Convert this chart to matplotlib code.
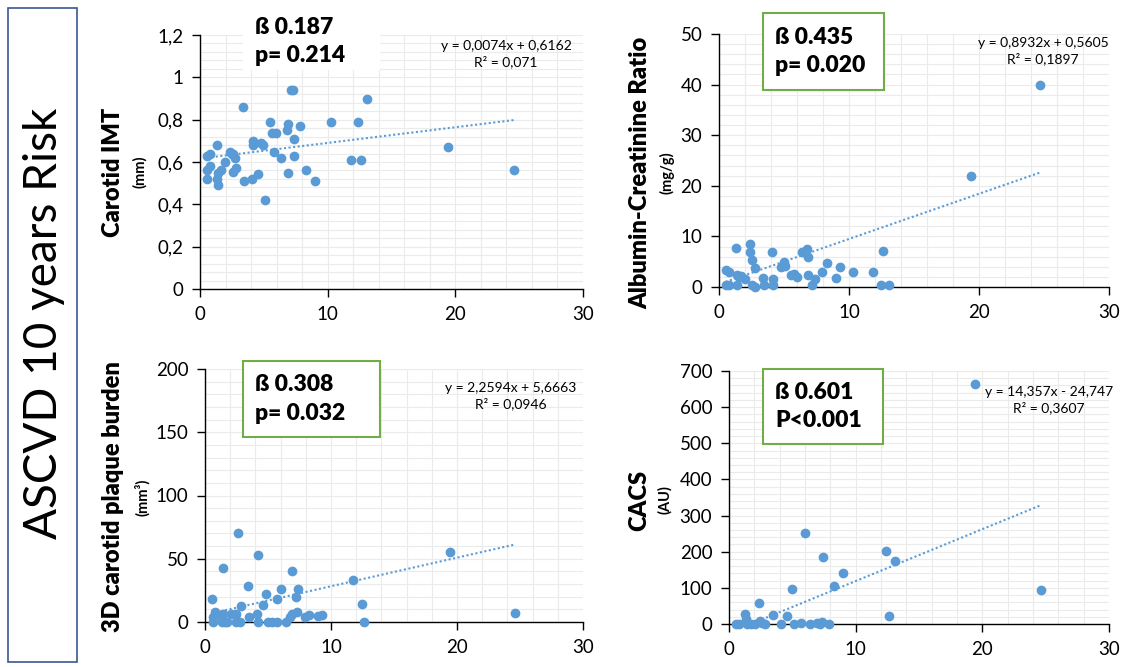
import numpy as np
import matplotlib.pyplot as plt
from matplotlib.ticker import MultipleLocator, FuncFormatter
from matplotlib.patches import Rectangle

plt.rcParams['font.family'] = ['Lato', 'DejaVu Sans']

# ASCVD 10-year risk (x) against each marker (y)
imt_x = [0.52, 0.57, 0.57, 0.78, 0.78, 1.36, 1.31, 1.38, 1.38, 1.65, 1.96, 2.35, 2.48, 2.61,
         2.74, 2.56, 2.80, 3.40, 3.45, 4.10, 4.18, 4.18, 4.57, 4.78, 4.96, 5.07, 5.49, 5.62,
         5.80, 5.96, 6.38, 6.79, 6.90, 6.90, 7.13, 7.29, 7.37, 7.37, 7.87, 8.28, 8.99, 10.30,
         11.81, 12.39, 12.59, 13.07, 19.39, 24.59]
imt_y = [0.561, 0.519, 0.629, 0.64, 0.582, 0.68, 0.519, 0.49, 0.549, 0.561, 0.599, 0.648, 0.637, 0.64,
         0.621, 0.552, 0.572, 0.861, 0.509, 0.519, 0.699, 0.68, 0.541, 0.692, 0.678, 0.419, 0.79, 0.738,
         0.648, 0.738, 0.621, 0.75, 0.779, 0.55, 0.938, 0.938, 0.711, 0.629, 0.77, 0.561, 0.509, 0.79,
         0.609, 0.79, 0.609, 0.899, 0.67, 0.56]

acr_x = [0.51, 0.77, 0.51, 0.77, 1.28, 1.39, 1.39, 1.54, 1.72, 1.98, 2.41, 2.41, 2.57, 2.75, 2.57,
         2.77, 3.39, 3.49, 4.08, 4.16, 4.16, 4.80, 5.01, 5.06, 5.50, 5.75, 6.01, 6.40, 6.78, 6.88,
         6.88, 7.19, 7.40, 7.89, 8.30, 8.99, 9.27, 10.30, 11.84, 12.43, 12.59, 13.10, 19.39, 24.66]
acr_y = [3.29, 2.96, 0.33, 0.33, 7.7, 2.43, 0.33, 1.97, 2.1, 1.64, 8.55, 6.97, 5.39, 3.75, 0.33,
         0.0, 1.78, 0.33, 6.97, 1.64, 0.33, 3.88, 4.87, 4.08, 2.43, 2.63, 1.97, 6.97, 7.5, 5.92,
         2.3, 0.33, 1.58, 2.96, 4.74, 1.71, 3.95, 2.96, 2.96, 0.33, 7.17, 0.33, 21.97, 39.87]

plq_x = [0.53, 0.61, 0.66, 0.79, 0.87, 1.40, 1.32, 1.46, 1.59, 1.72, 2.07, 2.44, 2.44, 2.65, 2.78,
         2.83, 3.44, 3.52, 4.16, 4.24, 4.24, 4.58, 4.82, 5.03, 5.30, 5.69, 5.75, 6.01, 6.43, 6.75,
         6.88, 6.91, 7.23, 7.33, 7.41, 7.94, 8.29, 9.00, 9.32, 11.78, 12.44, 12.63, 19.41, 24.57]
plq_y = [17.9, 0.0, 4.2, 8.2, 5.5, 42.4, 0.0, 6.3, 0.0, 0.0, 6.3, 6.3, 0.0, 70.6, 0.0,
         12.6, 28.5, 3.7, 6.3, 52.7, 0.0, 13.2, 22.1, 0.0, 0.0, 17.9, 0.0, 26.4, 0.0, 4.2,
         6.3, 40.6, 20.0, 7.6, 26.1, 3.7, 5.3, 5.0, 5.5, 33.2, 14.2, 0.0, 55.3, 6.9]

cacs_x = [0.58, 0.79, 1.29, 1.37, 1.42, 1.77, 2.03, 2.37, 2.43, 2.64, 2.82, 3.48, 4.09, 4.59, 4.98,
          5.11, 5.69, 6.01, 6.43, 6.91, 7.17, 7.38, 7.43, 7.91, 8.30, 9.02, 12.39, 12.60, 13.10,
          19.43, 24.62]
cacs_y = [0, 0, 26.7, 14.8, 0, 0, 0, 59, 9.2, 3.7, 0, 24, 0, 22, 97.8,
          0, 3.7, 251.8, 0, 3.7, 0, 5.5, 186.3, 0, 106, 141, 202, 22, 175,
          664, 94]

# Excel trendlines shown on the chart
slopes = [0.0074, 0.8932, 2.2594, 14.357]
intercepts = [0.6162, 0.5605, 5.6663, -24.747]
eq_text = ["y = 0,0074x + 0,6162\nR² = 0,071",
           "y = 0,8932x + 0,5605\nR² = 0,1897",
           "y = 2,2594x + 5,6663\nR² = 0,0946",
           "y = 14,357x - 24,747\nR² = 0,3607"]
stats_text = ["ß 0.187\np= 0.214", "ß 0.435\np= 0.020", "ß 0.308\np= 0.032", "ß 0.601\nP<0.001"]
ylabels = ["Carotid IMT", "Albumin-Creatinine Ratio", "3D carotid plaque burden", "CACS"]
units = ["(mm)", "(mg/g)", "(mm³)", "(AU)"]
ymax = [1.2, 50, 200, 700]
ystep = [0.2, 10, 50, 100]

blue = '#5B9BD5'
W, H = 1148, 667
fig = plt.figure(figsize=(W / 100, H / 100), dpi=100)

# axes boxes in pixels: left, top, right, bottom
boxes = [(200, 35, 583, 289), (719, 34, 1109, 287), (205, 369, 583, 622), (729, 371, 1109, 624)]
xs = [imt_x, acr_x, plq_x, cacs_x]
ys = [imt_y, acr_y, plq_y, cacs_y]

# y label positions (px) and stats box (left, top, right, bottom), equation centre
ylab_x = [(113, 140), (640, 667), (113, 142), (639, 665)]
ylab_y = [172, 173, 497, 500]
stat_boxes = [(243, 13, 380, 70), (763, 13, 884, 90), (243, 361, 380, 437), (763, 369, 883, 444)]
stat_border = [False, True, True, True]
eq_pos = [(506, 54), (1043, 51), (511, 396), (1049, 400)]


def fx(px):
    return px / W


def fy(py):
    return 1 - py / H


for i in range(4):
    l, t, r, b = boxes[i]
    ax = fig.add_axes([fx(l), fy(b), fx(r) - fx(l), fy(t) - fy(b)])
    ax.set_xlim(0, 30)
    ax.set_ylim(0, ymax[i])
    ax.xaxis.set_major_locator(MultipleLocator(10))
    ax.xaxis.set_minor_locator(MultipleLocator(2))
    ax.yaxis.set_major_locator(MultipleLocator(ystep[i]))
    ax.yaxis.set_minor_locator(MultipleLocator(ystep[i] / 5))
    if i == 0:
        ax.yaxis.set_major_formatter(FuncFormatter(lambda v, p: ('%g' % round(v, 2)).replace('.', ',')))
    ax.grid(which='both', color='#EBEBEB', lw=0.8)
    ax.set_axisbelow(True)
    for s in ['top', 'right']:
        ax.spines[s].set_visible(False)
    for s in ['left', 'bottom']:
        ax.spines[s].set_color('black')
        ax.spines[s].set_linewidth(1.0)
    ax.tick_params(which='major', direction='out', length=6, width=1, labelsize=13.5, pad=6,
                   colors='black')
    ax.tick_params(which='minor', length=0)
    ax.scatter(xs[i], ys[i], s=36, color=blue, zorder=3, clip_on=False)
    xx = np.array([min(xs[i]), max(xs[i])])
    ax.plot(xx, slopes[i] * xx + intercepts[i], ls=(0, (1, 1.2)), color=blue, lw=1.5, zorder=2)

    # y axis titles
    fig.text(fx(ylab_x[i][0]), fy(ylab_y[i]), ylabels[i], rotation=90, ha='center', va='center',
             fontsize=17, fontweight='heavy')
    fig.text(fx(ylab_x[i][1]), fy(ylab_y[i]), units[i], rotation=90, ha='center', va='center',
             fontsize=10.5, fontweight='bold')

    # stats box
    sl, st, sr, sb = stat_boxes[i]
    fig.patches.append(Rectangle((fx(sl), fy(sb)), fx(sr) - fx(sl), fy(st) - fy(sb),
                                 transform=fig.transFigure, facecolor='white',
                                 edgecolor='#70AD47' if stat_border[i] else 'none', lw=1.5, zorder=5))
    fig.text(fx(sl + 12), fy((st + sb) / 2), stats_text[i], ha='left', va='center', fontsize=16.5,
             fontweight='heavy', linespacing=1.45, zorder=6)

    fig.text(fx(eq_pos[i][0]), fy(eq_pos[i][1]), eq_text[i], ha='center', va='center', fontsize=10,
             linespacing=1.35)

# left label panel
fig.patches.append(Rectangle((fx(8), fy(662)), fx(77) - fx(8), fy(8) - fy(662), transform=fig.transFigure,
                             facecolor='white', edgecolor='#3A5795', lw=1.2))
fig.text(fx(44), fy(323), "ASCVD 10 years Risk", rotation=90, ha='center', va='center', fontsize=33)

fig.savefig('out.png', dpi=100)
